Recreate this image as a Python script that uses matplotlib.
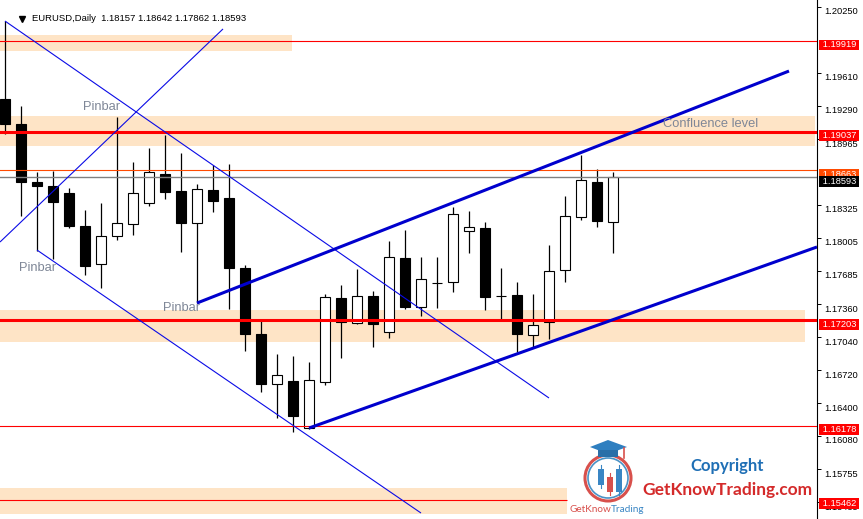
import matplotlib
matplotlib.use("Agg")
import matplotlib.pyplot as plt
import numpy as np
from matplotlib.patches import Circle, Polygon, Rectangle
from matplotlib.transforms import ScaledTranslation, blended_transform_factory

plt.rcParams['font.family'] = ['Liberation Sans', 'DejaVu Sans']

symbol = "EURUSD,Daily"

# daily candles, oldest first
opens = np.array([1.19355, 1.19112, 1.18549, 1.18510, 1.18442, 1.18121, 1.17751, 1.18024,
                  1.18140, 1.18344, 1.18626, 1.18461, 1.18150, 1.18471, 1.18393, 1.17713,
                  1.17071, 1.16585, 1.16614, 1.16157, 1.16605, 1.17421, 1.17178, 1.17440,
                  1.17091, 1.17810, 1.17334, 1.17567, 1.17577, 1.18072, 1.18101, 1.17440,
                  1.17450, 1.17061, 1.17188, 1.17693, 1.18208, 1.18549, 1.18157])
highs = np.array([1.20113, 1.19287, 1.18646, 1.18655, 1.18490, 1.18276, 1.18344, 1.19180,
                  1.18743, 1.18879, 1.19005, 1.18830, 1.18529, 1.18714, 1.18723, 1.17742,
                  1.17197, 1.16877, 1.16857, 1.16799, 1.17460, 1.17547, 1.17703, 1.17489,
                  1.17975, 1.18082, 1.17820, 1.17820, 1.18306, 1.18267, 1.18160, 1.17713,
                  1.17577, 1.17460, 1.17936, 1.18412, 1.18811, 1.18675, 1.18642])
lows = np.array([1.19015, 1.18218, 1.17878, 1.17800, 1.18101, 1.17645, 1.17518, 1.17985,
                 1.18033, 1.18315, 1.18383, 1.17868, 1.17372, 1.18257, 1.17314, 1.16906,
                 1.16507, 1.16255, 1.16119, 1.16148, 1.16575, 1.16838, 1.17168, 1.16945,
                 1.17032, 1.17314, 1.17246, 1.17324, 1.17479, 1.17858, 1.17304, 1.17217,
                 1.16896, 1.16945, 1.17022, 1.17577, 1.18179, 1.18111, 1.17862])
closes = np.array([1.19112, 1.18549, 1.18510, 1.18354, 1.18121, 1.17732, 1.18024, 1.18150,
                   1.18442, 1.18646, 1.18451, 1.18150, 1.18480, 1.18364, 1.17713, 1.17071,
                   1.16585, 1.16673, 1.16274, 1.16624, 1.17431, 1.17188, 1.17440, 1.17168,
                   1.17820, 1.17334, 1.17606, 1.17566, 1.18237, 1.18111, 1.17431, 1.17439,
                   1.17071, 1.17159, 1.17683, 1.18218, 1.18568, 1.18169, 1.18593])

# horizontal price levels (price, right end in bars)
level_prices = [1.19919, 1.19037, 1.18663, 1.18593, 1.17203, 1.16178, 1.15462]
level_ends = [50.75, 50.75, 50.75, 50.75, 50.75, 50.75, 35.1]
level_colors = ['red', 'red', '#ff4a00', '#808080', 'red', 'red', 'red']
level_widths = [0.8, 2.2, 0.8, 1.0, 2.2, 0.8, 0.8]
box_colors = ['red', 'red', '#ff4a00', 'black', 'red', 'red', 'red']

# shaded support / resistance zones
zone_high = [1.19977, 1.19190, 1.17304, 1.15574]
zone_low = [1.19822, 1.18898, 1.16993, 1.15321]
zone_end = [17.94, 50.6, 50.0, 35.1]

# trend / channel lines: (bar, price) -> (bar, price)
trend_x0 = [0, 2, -0.3125, 12, 19]
trend_p0 = [1.20113, 1.17887, 1.17965, 1.17372, 1.16157]
trend_x1 = [34.0, 26, 13.625, 49, 50.75]
trend_p1 = [1.16449, 1.15331, 1.20036, 1.19627, 1.17917]
trend_thick = [False, False, False, True, True]

# text notes on the chart
note_text = ["Pinbar", "Pinbar", "Pinbar", "Confluence level"]
note_x = [4.875, 0.875, 9.875, 41.125]
note_p = [1.19248, 1.17683, 1.17295, 1.19083]

tick_values = [1.20250, 1.19610, 1.19290, 1.18965, 1.18325, 1.18005, 1.17685,
               1.17360, 1.17040, 1.16720, 1.16400, 1.16080, 1.15755, 1.15435]

fig = plt.figure(figsize=(8.63, 5.19), dpi=100, facecolor='white')
ax = fig.add_axes([0, 0, 817 / 863, 1])
ax.set_xlim(-0.3125, 50.75)
ax.set_ylim(1.152728, 1.203175)

for s in ['top', 'left', 'bottom']:
    ax.spines[s].set_visible(False)
ax.spines['right'].set_linewidth(0.8)
ax.set_xticks([])
ax.yaxis.tick_right()
ax.set_yticks(tick_values, labels=[f"{v:.5f}" for v in tick_values])
ax.tick_params(axis='y', direction='out', length=3, width=0.7, pad=2.5,
               labelsize=6.7, colors='black')
shift = ScaledTranslation(0, -4 / 100, fig.dpi_scale_trans)
for t in ax.yaxis.get_major_ticks():
    t.label2.set_transform(t.label2.get_transform() + shift)

# zones
for hi, lo, end in zip(zone_high, zone_low, zone_end):
    ax.fill_between([-1, end], lo, hi, color='#fee4c6', lw=0, zorder=0.5)

# candles
x = np.arange(len(opens))
up = closes >= opens
ax.vlines(x, lows, highs, color='black', lw=0.9, zorder=2)
ax.bar(x, np.abs(closes - opens), bottom=np.minimum(opens, closes), width=0.66,
       color=np.where(up, 'white', 'black'), edgecolor='black', linewidth=0.8, zorder=3)

# levels
for p, end, c, w in zip(level_prices, level_ends, level_colors, level_widths):
    ax.hlines(p, -1, end, color=c, lw=w, zorder=4)

# trend lines
for x0, p0, x1, p1, thick in zip(trend_x0, trend_p0, trend_x1, trend_p1, trend_thick):
    ax.plot([x0, x1], [p0, p1], color='#0000cd' if thick else '#0a0ae6',
            lw=2.2 if thick else 0.8, zorder=5, solid_capstyle='butt')

for txt, nx, npr in zip(note_text, note_x, note_p):
    ax.text(nx, npr, txt, color='#7f8797', fontsize=9.3, va='baseline', ha='left', zorder=6)

# price boxes on the axis
box_trans = blended_transform_factory(fig.transFigure, ax.transData) + shift
for p, bc in zip(level_prices, box_colors):
    ax.text(819.5 / 863, p, f" {p:.5f} ", transform=box_trans, color='white', fontsize=6.7,
            va='center', ha='left', clip_on=False, zorder=10,
            bbox=dict(boxstyle='square,pad=0.1', fc=bc, ec='none'))

# overlay in pixel units for the header and the watermark
ov = fig.add_axes([0, 0, 1, 1])
ov.set_xlim(0, 863)
ov.set_ylim(519, 0)
ov.axis('off')
ov.patch.set_alpha(0)

ov.plot(22, 18.5, marker='v', color='black', ms=4.2)
ov.text(32, 18.5, f"{symbol}  " + " ".join(f"{v:.5f}" for v in
        [opens[-1], highs[-1], lows[-1], closes[-1]]),
        fontsize=6.8, va='center', ha='left')

# logo
ov.add_patch(Circle((608, 478), 23, fill=False, ec='#d8504c', lw=2.2))
ov.add_patch(Circle((608, 478), 20, fill=False, ec='#4a92c6', lw=1.2))
ov.add_patch(Rectangle((595, 445), 26, 9, fc='white', ec='none'))
for cx, top, bot, col in [(601, 469, 485, '#3a86c4'), (610, 477, 492, '#d8504c'),
                          (619, 469, 492, '#3a86c4')]:
    ov.plot([cx, cx], [top - 4, bot + 3], color=col, lw=0.8)
    ov.add_patch(Rectangle((cx - 3, top), 6, bot - top, fc=col, ec='none'))
ov.add_patch(Polygon([(590, 447), (608, 440), (627, 447), (608, 454)], fc='#2f7fc0', ec='none'))
ov.add_patch(Polygon([(598, 450), (618, 450), (618, 457), (598, 457)], fc='#2a6fa8', ec='none'))
ov.plot([624, 624], [448, 458], color='#d8504c', lw=1.2)
t1 = ov.text(569, 509, "GetKnow", color='#d8504c', fontsize=7.2, family='Lato',
             va='center', ha='left')
ov.annotate("Trading", xy=(1, 0.5), xycoords=t1, color='#3a86c4', fontsize=7.2,
            family='Lato', va='center', ha='left')

ov.text(727, 466, "Copyright", color='#1f6fb5', fontsize=12, fontweight='bold',
        family='Lato', ha='center', va='center')
ov.text(727.5, 490, "GetKnowTrading.com", color='#d42a2a', fontsize=12.5,
        fontweight='bold', family='Lato', ha='center', va='center')

fig.savefig('out.png', dpi=100, facecolor='white')
